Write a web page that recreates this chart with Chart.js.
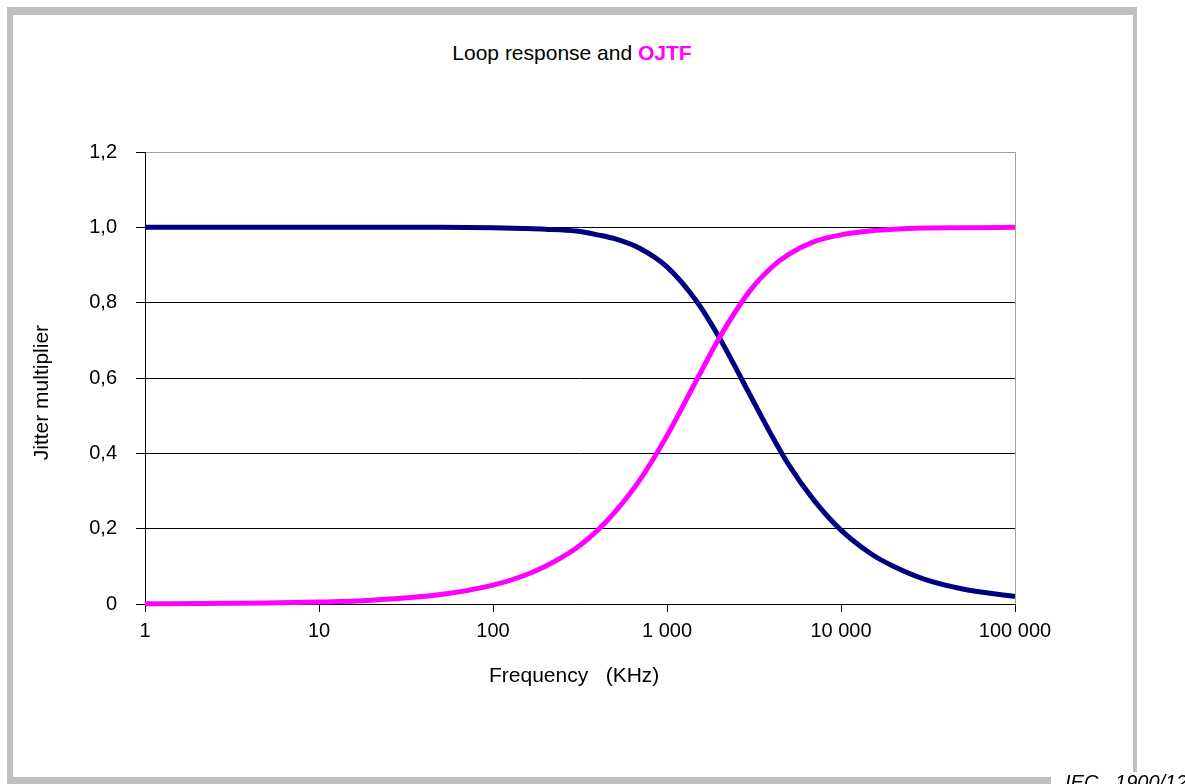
<!DOCTYPE html>
<html>
<head>
<meta charset="utf-8">
<script src="https://cdn.jsdelivr.net/npm/chart.js@4.4.1/dist/chart.umd.min.js"></script>
<style>
  body { margin: 0; background: #fff; }
  #wrap { position: relative; width: 1185px; height: 784px; overflow: hidden; font-family: "Liberation Sans", Arial, sans-serif; }
  #frame {
    position: absolute; left: 7px; top: 7px; width: 1130px; height: 777px;
    box-sizing: border-box; border-style: solid; border-color: #c0c0c0;
    border-width: 8px 4px 7px 6px;
  }
  #title {
    position: absolute; left: 0; top: 40px; width: 1144px;
    text-align: center; font-size: 21px; line-height: 26px; color: #000;
  }
  #title b { color: #ff00ff; }
  #iec {
    position: absolute; left: 1051px; top: 772px; width: 134px; height: 20px;
    background: #fff; padding-left: 14px; box-sizing: border-box;
    font-style: italic; font-size: 20px; line-height: 20px; white-space: pre; color: #000;
  }
  canvas { position: absolute; left: 0; top: 0; }
</style>
</head>
<body>
<div id="wrap">
  <div id="frame"></div>
  <div id="title">Loop response and <b>OJTF</b></div>
  <canvas id="chart" width="1185" height="784"></canvas>
  <div id="iec">IEC   1900/12</div>
</div>
<script>
// Values
const frequencies = [1, 2, 5, 10, 20, 50, 100, 150, 200, 300, 400, 500, 700, 1000, 1500, 2000, 3000, 4000, 5000, 7000, 10000, 15000, 20000, 30000, 50000, 100000];
const loopResponse = [1.0, 1.0, 1.0, 1.0, 1.0, 1.0, 0.999, 0.997, 0.995, 0.99, 0.98, 0.97, 0.944, 0.895, 0.8, 0.707, 0.555, 0.447, 0.37, 0.275, 0.196, 0.132, 0.1, 0.066, 0.04, 0.02];
const ojtf = [0.0005, 0.001, 0.0025, 0.005, 0.01, 0.025, 0.05, 0.075, 0.1, 0.148, 0.196, 0.243, 0.33, 0.447, 0.6, 0.707, 0.832, 0.894, 0.928, 0.962, 0.98, 0.991, 0.995, 0.998, 0.999, 1.0];

// Axis ticks
const xTickValues = [1, 10, 100, 1000, 10000, 100000];
const xTickLabels = ['1', '10', '100', '1 000', '10 000', '100 000'];
const yTickValues = [0, 0.2, 0.4, 0.6, 0.8, 1.0, 1.2];
const yTickLabels = ['0', '0,2', '0,4', '0,6', '0,8', '1,0', '1,2'];

Chart.defaults.font.family = '"Liberation Sans", Arial, sans-serif';
Chart.defaults.color = '#000';

// Gray right edge of the plot area
const plotEdge = {
  id: 'plotEdge',
  afterDraw(chart) {
    const { ctx, chartArea } = chart;
    ctx.save();
    ctx.strokeStyle = '#a0a0a0';
    ctx.lineWidth = 1;
    ctx.beginPath();
    ctx.moveTo(Math.round(chartArea.right) + 0.5, chartArea.top);
    ctx.lineTo(Math.round(chartArea.right) + 0.5, chartArea.bottom);
    ctx.stroke();
    ctx.restore();
  }
};

function points(values) {
  return frequencies.map((f, i) => ({ x: f, y: values[i] }));
}

new Chart(document.getElementById('chart'), {
  type: 'line',
  data: {
    datasets: [
      {
        label: 'OJTF',
        data: points(ojtf),
        borderColor: '#ff00ff',
        borderWidth: 5,
        pointRadius: 0,
        cubicInterpolationMode: 'monotone',
        clip: 6,
        order: 0
      },
      {
        label: 'Loop response',
        data: points(loopResponse),
        borderColor: '#000080',
        borderWidth: 5,
        pointRadius: 0,
        cubicInterpolationMode: 'monotone',
        clip: 6,
        order: 1
      }
    ]
  },
  options: {
    responsive: false,
    animation: false,
    devicePixelRatio: 1,
    layout: { padding: { left: 0, top: 152, right: 170, bottom: 80 } },
    plugins: {
      legend: { display: false },
      tooltip: { enabled: false },
      title: { display: false }
    },
    scales: {
      x: {
        type: 'logarithmic',
        min: 1,
        max: 100000,
        afterBuildTicks: (scale) => {
          scale.ticks = xTickValues.map(v => ({ value: v }));
        },
        afterFit: (scale) => { scale.height = 100; },
        ticks: {
          autoSkip: false,
          maxRotation: 0,
          padding: 7,
          font: { size: 20 },
          callback: (value) => xTickLabels[xTickValues.indexOf(value)]
        },
        grid: { drawOnChartArea: false, drawTicks: true, tickLength: 8, color: '#000' },
        border: { display: true, color: '#000', width: 1 },
        title: {
          display: true,
          // trailing spaces nudge the centred title a little left, as in the figure
          text: 'Frequency   (KHz)  ',
          font: { size: 21 },
          padding: { top: 0, bottom: 15 }
        }
      },
      y: {
        min: 0,
        max: 1.2,
        afterBuildTicks: (scale) => {
          scale.ticks = yTickValues.map(v => ({ value: v }));
        },
        afterFit: (scale) => { scale.width = 145; },
        ticks: {
          padding: 19,
          font: { size: 20 },
          callback: (value, index) => yTickLabels[index]
        },
        grid: {
          color: (ctx) => (ctx.tick && ctx.tick.value === 1.2 ? '#a0a0a0' : '#000'),
          tickColor: '#000',
          tickLength: 9,
          lineWidth: 1
        },
        border: { display: true, color: '#000', width: 1 },
        title: {
          display: true,
          // trailing spaces shift the rotated title slightly down
          text: 'Jitter multiplier     ',
          font: { size: 21 },
          padding: { top: 30, bottom: 0 }
        }
      }
    }
  },
  plugins: [plotEdge]
});
</script>
</body>
</html>
